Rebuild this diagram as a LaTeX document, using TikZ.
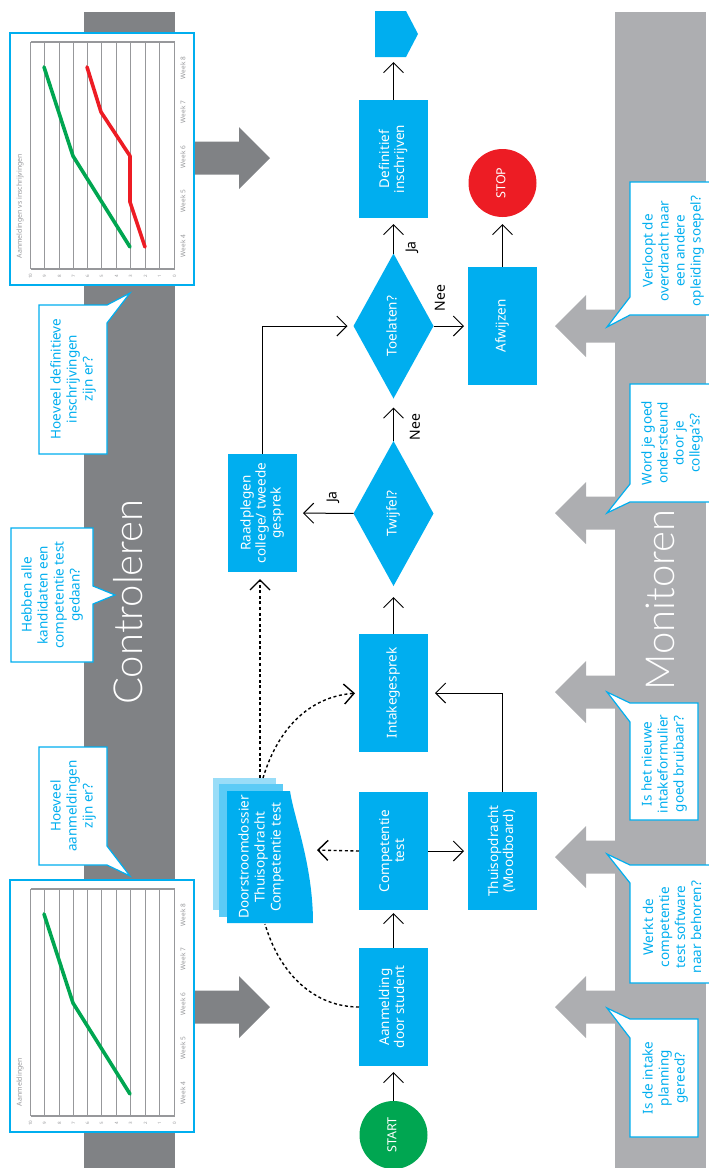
\documentclass[tikz,border=0pt]{standalone}
\usepackage{fontspec}
\setmainfont{Noto Sans}
\newfontfamily\titelfont{Lato Light}
\usetikzlibrary{arrows.meta,shapes.geometric}
\definecolor{blauw}{HTML}{00AEEF}
\definecolor{blauwmidden}{HTML}{5CCBF6}
\definecolor{blauwlicht}{HTML}{99DDF8}
\definecolor{donkergrijs}{HTML}{808285}
\definecolor{lichtgrijs}{HTML}{ADAEB1}
\definecolor{groen}{HTML}{00A651}
\definecolor{rood}{HTML}{ED1C24}
\definecolor{rastergrijs}{HTML}{97989B}
\newcommand{\rotlabel}[1]{\rotatebox{90}{\begin{tabular}{@{}c@{}}#1\end{tabular}}}
% chart: #1 prefix, #2 shift in y, #3 title y, #4 title
\newcommand{\grafiek}[4]{
    \fill[white] (10,33+#2) rectangle (194,285+#2);
    \foreach \n/\x in {0/174.5,1/159.5,2/145.5,3/130.5,4/116.5,5/101.5,6/87.5,7/73.5,8/59.5,9/44.5,10/30.5} {
        \draw[rooster] (\x,42+#2) -- (\x,269+#2);
        \node[ticklabel] (#1t\n) at (\x,276+#2) {\n};
    }
    \draw[rooster] (30.5,42+#2) -- (174.5,42+#2);
    \draw[rooster] (30.5,269+#2) -- (174.5,269+#2);
    \foreach \w/\y in {8/68,7/112,6/157,5/201,4/246} {
        \node[weeklabel] (#1w\w) at (183,\y+#2) {Week \w};
    }
    \node[grafiektitel] (#1titel) at (20,#3+#2) {#4};
    \draw[blauw,line width=1.2pt] (10,33+#2) rectangle (194,285+#2);
    \draw[groen,datalijn] (44,67+#2) -- (73,156+#2) -- (130,247+#2);
}
\begin{document}
\begin{tikzpicture}[x=1pt,y=-1pt,
    >={Straight Barb[length=10pt,width=20pt]},
    every node/.style={inner sep=0pt,outer sep=0pt},
    processbox/.style={fill=blauw,text=white,minimum width=69pt,minimum height=118pt,font=\fontsize{13.5}{15}\selectfont},
    keuze/.style={diamond,fill=blauw,text=white,minimum width=80pt,minimum height=145pt,aspect=0.55,font=\fontsize{13.5}{15}\selectfont},
    eindpunt/.style={circle,text=white,minimum size=68pt,font=\fontsize{12.5}{14}\selectfont},
    pijl/.style={->,line width=1pt},
    stippel/.style={line width=1.4pt,dash pattern=on 3pt off 2.6pt},
    vraag/.style={draw=blauw,fill=white,line width=1.2pt},
    vraagtekst/.style={rotate=90,align=center,text=blauw,font=\fontsize{13.5}{16}\selectfont},
    antwoord/.style={rotate=90,font=\fontsize{14}{16}\selectfont},
    balktitel/.style={rotate=90,font=\titelfont\fontsize{40}{44}\selectfont},
    rooster/.style={draw=rastergrijs,line width=1.2pt},
    ticklabel/.style={rotate=90,text=rastergrijs,font=\fontsize{4.5}{5}\selectfont},
    weeklabel/.style={rotate=90,text=rastergrijs,font=\fontsize{6.5}{7}\selectfont},
    grafiektitel/.style={rotate=90,text=rastergrijs,font=\fontsize{7}{8}\selectfont},
    datalijn/.style={line width=3.6pt,line cap=round,line join=round}]
    \useasboundingbox (0,0) rectangle (709,1168);

    % bars
    \fill[donkergrijs] (84,12) rectangle (175,1168);
    \fill[lichtgrijs] (615,12) rectangle (706,1168);
    \node[balktitel,text=white] (controleren) at (128,602) {Controleren};
    \node[balktitel,text=white] (monitoren) at (660,600) {Monitoren};

    % big arrows
    \foreach \y in {158,1007} {
        \fill[donkergrijs] (195,\y-16.5) -- (239,\y-16.5) -- (239,\y-31) -- (270,\y) -- (239,\y+31) -- (239,\y+16.5) -- (195,\y+16.5) -- cycle;
    }
    \foreach \y in {326,513,692,857,1007} {
        \fill[lichtgrijs] (615,\y-16.5) -- (586,\y-16.5) -- (586,\y-31) -- (555,\y) -- (586,\y+31) -- (586,\y+16.5) -- (615,\y+16.5) -- cycle;
    }

    % questions, left
    \draw[vraag] (39,305) -- (107,305) -- (130,293) -- (107,323) -- (107,454) -- (39,454) -- cycle;
    \node[vraagtekst] (hoeveeldef) at (73,379) {Hoeveel definitieve\\inschrijvingen\\zijn er?};
    \draw[vraag] (11,528) -- (93,528) -- (93,586) -- (115,595) -- (93,604) -- (93,662) -- (11,662) -- cycle;
    \node[vraagtekst] (hebben) at (52,595) {Hebben alle\\kandidaten een\\competentie test\\gedaan?};
    \draw[vraag] (39,747) -- (107,747) -- (107,846) -- (130,876) -- (107,865) -- (39,865) -- cycle;
    \node[vraagtekst] (hoeveelaanm) at (73,806) {Hoeveel\\aanmeldingen\\zijn er?};

    % questions, right
    \draw[vraag] (711,182) -- (630,182) -- (630,297) -- (607,327) -- (630,315) -- (711,315);
    \node[vraagtekst] (verloopt) at (673,251) {Verloopt de\\overdracht naar\\een andere\\opleiding soepel?};
    \draw[vraag] (711,384) -- (630,384) -- (630,484) -- (607,513) -- (630,502) -- (711,502);
    \node[vraagtekst] (wordje) at (672,443) {Word je goed\\ondersteund\\door je\\collega's?};
    \draw[vraag] (698,703) -- (630,703) -- (607,692) -- (630,722) -- (630,820) -- (698,820) -- cycle;
    \node[vraagtekst] (ishet) at (664,764) {Is het nieuwe\\intakeformulier\\goed bruibaar?};
    \draw[vraag] (711,865) -- (630,865) -- (607,854) -- (630,883) -- (630,983) -- (711,983);
    \node[vraagtekst] (werkt) at (672,927) {Werkt de\\competentie\\test software\\naar behoren?};
    \draw[vraag] (698,1019) -- (630,1019) -- (607,1008) -- (630,1038) -- (630,1137) -- (698,1137) -- cycle;
    \node[vraagtekst] (isde) at (665,1078) {Is de intake\\planning\\gereed?};

    % charts
    \grafiek{a}{847}{235}{Aanmeldingen}
    \grafiek{b}{0}{206}{Aanmeldingen vs inschrijvingen}
    \draw[rood,datalijn] (87,67) -- (101,112) -- (130,156) -- (130,202) -- (145,247);

    % document stack
    \fill[blauwlicht] (213,778) rectangle (276,910);
    \fill[blauwmidden] (219,784) rectangle (283,917);
    \fill[blauw] (227,791) -- (290,791) .. controls (294,818) and (313,865) .. (313,923) -- (227,923) -- cycle;
    \node[rotate=90,align=center,text=white,font=\fontsize{13.5}{16}\selectfont] (dossier) at (261,857) {Doorstroomdossier\\Thuisopdracht\\Competentie test};
    \coordinate (dossierboven) at (260,778);
    \coordinate (dossierrechts) at (263,778);
    \coordinate (dossieronder) at (265,924);
    \coordinate (dossierpijl) at (313,850);

    % flow
    \node[eindpunt,fill=groen] (start) at (393.5,1135) {\rotlabel{START\hspace{5pt}}};
    \node[processbox] (aanmelding) at (393.5,1007) {\rotlabel{Aanmelding\\door student}};
    \node[processbox] (competentie) at (393.5,851) {\rotlabel{Competentie\\test}};
    \node[processbox] (thuis) at (502.5,851) {\rotlabel{Thuisopdracht\\(Moodboard)}};
    \node[processbox] (intake) at (393.5,693) {\rotlabel{Intakegesprek}};
    \node[keuze] (twijfel) at (393.5,513.5) {\rotlabel{Twijfel?}};
    \node[processbox] (raadplegen) at (262.5,513) {\rotlabel{Raadplegen\\college/ tweede\\gesprek}};
    \node[keuze] (toelaten) at (393.5,326) {\rotlabel{Toelaten?}};
    \node[processbox] (afwijzen) at (502.5,326) {\rotlabel{Afwijzen}};
    \node[processbox] (definitief) at (393.5,159) {\rotlabel{Definitief\\inschrijven}};
    \node[eindpunt,fill=rood] (stop) at (502.5,183) {\rotlabel{STOP}};
    \fill[blauw] (375,11) -- (406,11) -- (418,34) -- (406,57) -- (375,57) -- cycle;
    \coordinate (eind) at (393.5,57);

    \draw[pijl,shorten >=6pt] (start) -- (aanmelding);
    \draw[pijl,shorten >=3pt] (aanmelding) -- (competentie);
    \draw[pijl,shorten >=4pt] (competentie) -- (thuis);
    \draw[pijl,shorten >=7pt] (thuis.north) |- (intake);
    \draw[pijl,shorten >=11pt] (intake) -- (twijfel);
    \draw[pijl,shorten >=9pt] (twijfel) -- (toelaten);
    \draw[pijl,shorten >=6pt] (twijfel) -- (raadplegen);
    \draw[pijl,shorten >=6pt] (raadplegen.north) |- (toelaten);
    \draw[pijl,shorten >=6pt] (toelaten) -- (definitief);
    \draw[pijl,shorten >=4pt] (toelaten) -- (afwijzen);
    \draw[pijl,shorten >=7pt] (afwijzen) -- (stop);
    \draw[pijl,shorten >=5pt] (definitief) -- (eind);

    \draw[pijl,stippel,shorten >=4pt] (competentie.west) -- (dossierpijl);
    \draw[pijl,stippel,shorten >=7pt] (dossierboven) -- (dossierboven |- raadplegen.south);
    \draw[pijl,stippel,shorten >=4pt] (dossierrechts) .. controls (280,722) and (315,696) .. (intake.west);
    \draw[stippel] (aanmelding.west) .. controls (315,1007) and (280,975) .. (dossieronder);

    \node[antwoord] (ja1) at (412,247) {Ja};
    \node[antwoord] (nee1) at (440,298) {Nee};
    \node[antwoord] (nee2) at (415,427) {Nee};
    \node[antwoord] (ja2) at (333,497) {Ja};
\end{tikzpicture}
\end{document}
